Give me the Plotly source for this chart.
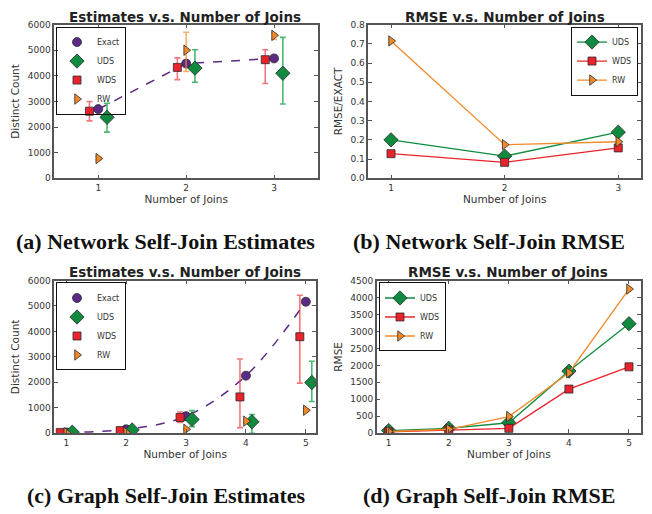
import plotly.graph_objects as go

W, H = 652, 514

# ---------------- data ----------------
# (a) Network self-join estimates
joins_a = [1, 2, 3]
exact_a = [2700, 4480, 4680]
uds_a = [2380, 4300, 4100]
uds_a_hi = [2930, 5020, 5500]
uds_a_lo = [1800, 3750, 2900]
wds_a = [2620, 4330, 4630]
wds_a_hi = [3000, 4700, 5020]
wds_a_lo = [2240, 3850, 3700]
rw_a = [770, 5000, 5580]
rw_a_hi = [830, 5700, 5650]
rw_a_lo = [710, 4170, 5420]

# (b) Network self-join RMSE (relative)
joins_b = [1, 2, 3]
uds_b = [0.200, 0.115, 0.240]
wds_b = [0.128, 0.083, 0.158]
rw_b = [0.715, 0.175, 0.190]

# (c) Graph self-join estimates
joins_c = [1, 2, 3, 4, 5]
exact_c = [30, 154, 668, 2262, 5167]
uds_c = [40, 128, 540, 450, 1992]
uds_c_hi = [60, 160, 887, 733, 2828]
uds_c_lo = [20, 100, 257, 0, 1247]
wds_c = [30, 103, 617, 1427, 3792]
wds_c_hi = [45, 130, 835, 2918, 5424]
wds_c_lo = [15, 80, 424, 218, 1967]
rw_c = [20, 30, 154, 475, 900]
rw_c_hi = [30, 40, 170, 540, 960]
rw_c_lo = [10, 20, 140, 420, 850]

# (d) Graph self-join RMSE
joins_d = [1, 2, 3, 4, 5]
uds_d = [77, 145, 308, 1830, 3227]
wds_d = [40, 96, 145, 1300, 1956]
rw_d = [48, 116, 491, 1782, 4249]

# ---------------- styles ----------------
PURPLE = "#5b2a86"
GREEN = "#0f8a3e"
RED = "#e8232b"
ORANGE = "#f28a2a"
GREEN_E = "rgba(15,160,70,0.75)"
RED_E = "rgba(240,60,70,0.7)"
ORANGE_E = "rgba(242,138,42,0.7)"
EDGE = "#2a2a2a"
SPINE = "#555555"
TXT = "#333333"
OFF = 0.1


def px_x(a, b):
    return [a / W, b / W]


def px_y(top, bottom):
    return [1 - bottom / H, 1 - top / H]


fig = go.Figure()


def err(vals, hi, lo, color):
    return dict(type="data", symmetric=False,
                array=[h - v for h, v in zip(hi, vals)],
                arrayminus=[v - l for l, v in zip(lo, vals)],
                color=color, thickness=1.6, width=3)


def estimates(joins, exact, uds, uh, ul, wds, wh, wl, rw, rh, rl, xa, ya, leg, spline):
    fig.add_trace(go.Scatter(x=joins, y=exact, mode="lines",
                             line=dict(color=PURPLE, dash="dash", width=1.5,
                                       shape="spline" if spline else "linear"),
                             showlegend=False, xaxis=xa, yaxis=ya, hoverinfo="skip"))
    fig.add_trace(go.Scatter(x=joins, y=exact, mode="markers", name="Exact",
                             marker=dict(symbol="circle", size=9, color=PURPLE,
                                         line=dict(color=EDGE, width=0.8)),
                             xaxis=xa, yaxis=ya, legend=leg))
    fig.add_trace(go.Scatter(x=[j + OFF for j in joins], y=uds, mode="markers", name="UDS",
                             marker=dict(symbol="diamond", size=11, color=GREEN,
                                         line=dict(color=EDGE, width=0.8)),
                             error_y=err(uds, uh, ul, GREEN_E),
                             xaxis=xa, yaxis=ya, legend=leg))
    fig.add_trace(go.Scatter(x=[j - OFF for j in joins], y=wds, mode="markers", name="WDS",
                             marker=dict(symbol="square", size=8, color=RED,
                                         line=dict(color=EDGE, width=0.8)),
                             error_y=err(wds, wh, wl, RED_E),
                             xaxis=xa, yaxis=ya, legend=leg))
    fig.add_trace(go.Scatter(x=joins, y=rw, mode="markers", name="RW",
                             marker=dict(symbol="triangle-right", size=9, color=ORANGE,
                                         line=dict(color=EDGE, width=0.8)),
                             error_y=err(rw, rh, rl, ORANGE_E),
                             xaxis=xa, yaxis=ya, legend=leg))


def rmse(joins, uds, wds, rw, xa, ya, leg):
    fig.add_trace(go.Scatter(x=joins, y=uds, mode="lines+markers", name="UDS",
                             line=dict(color=GREEN, width=1.3),
                             marker=dict(symbol="diamond", size=11, color=GREEN,
                                         line=dict(color=EDGE, width=0.8)),
                             xaxis=xa, yaxis=ya, legend=leg))
    fig.add_trace(go.Scatter(x=joins, y=wds, mode="lines+markers", name="WDS",
                             line=dict(color=RED, width=1.3),
                             marker=dict(symbol="square", size=8, color=RED,
                                         line=dict(color=EDGE, width=0.8)),
                             xaxis=xa, yaxis=ya, legend=leg))
    fig.add_trace(go.Scatter(x=joins, y=rw, mode="lines+markers", name="RW",
                             line=dict(color=ORANGE, width=1.3),
                             marker=dict(symbol="triangle-right", size=9, color=ORANGE,
                                         line=dict(color=EDGE, width=0.8)),
                             xaxis=xa, yaxis=ya, legend=leg))


estimates(joins_a, exact_a, uds_a, uds_a_hi, uds_a_lo, wds_a, wds_a_hi, wds_a_lo,
          rw_a, rw_a_hi, rw_a_lo, "x", "y", "legend", False)
rmse(joins_b, uds_b, wds_b, rw_b, "x2", "y2", "legend2")
estimates(joins_c, exact_c, uds_c, uds_c_hi, uds_c_lo, wds_c, wds_c_hi, wds_c_lo,
          rw_c, rw_c_hi, rw_c_lo, "x3", "y3", "legend3", True)
rmse(joins_d, uds_d, wds_d, rw_d, "x4", "y4", "legend4")

tickfont = dict(family="DejaVu Sans", size=9, color=TXT)
titlefont = dict(family="DejaVu Sans", size=10.5, color=TXT)


def xax(domain, rng, ticks, anchor):
    return dict(domain=domain, range=rng, tickvals=ticks, anchor=anchor,
                showgrid=False, zeroline=False, showline=True, linecolor=SPINE,
                linewidth=1.5, mirror="allticks", ticks="inside", ticklen=4,
                tickcolor=SPINE, tickfont=tickfont,
                title=dict(text="Number of Joins", font=titlefont, standoff=4))


def yax(domain, rng, ticks, anchor, title, fmt=None):
    d = dict(domain=domain, range=rng, tickvals=ticks, anchor=anchor,
             showgrid=False, zeroline=False, showline=True, linecolor=SPINE,
             linewidth=1.5, mirror="allticks", ticks="inside", ticklen=4,
             tickcolor=SPINE, tickfont=tickfont,
             title=dict(text=title, font=titlefont, standoff=6))
    if fmt:
        d["tickformat"] = fmt
    return d


ya_dom = px_y(20, 176.7)
yc_dom = px_y(281, 436.7)

fig.update_layout(
    width=W, height=H, margin=dict(l=0, r=0, t=0, b=0),
    paper_bgcolor="white", plot_bgcolor="white",
    xaxis=xax(px_x(54.3, 318), [0.5, 3.5], joins_a, "y"),
    yaxis=yax(ya_dom, [0, 6000], list(range(0, 6001, 1000)), "x", "Distinct Count"),
    xaxis2=xax(px_x(368.3, 641), [0.8, 3.2], joins_b, "y2"),
    yaxis2=yax(ya_dom, [0, 0.8], [i / 10 for i in range(9)], "x2", "RMSE/EXACT", ".1f"),
    xaxis3=xax(px_x(54.3, 316), [0.8, 5.17], joins_c, "y3"),
    yaxis3=yax(yc_dom, [0, 6000], list(range(0, 6001, 1000)), "x3", "Distinct Count"),
    xaxis4=xax(px_x(376.7, 641), [0.8, 5.2], joins_d, "y4"),
    yaxis4=yax(yc_dom, [0, 4500], list(range(0, 4501, 500)), "x4", "RMSE"),
)

legfont = dict(family="DejaVu Sans", size=8, color=TXT)


def leg(x, y, xanchor="left", bg="white"):
    return dict(x=x / W, y=1 - y / H, xanchor=xanchor, yanchor="top", xref="paper", yref="paper",
                bgcolor=bg, bordercolor="#111111", borderwidth=1, font=legfont,
                itemwidth=30, tracegroupgap=0, itemsizing="trace")


fig.update_layout(
    legend=leg(56, 22, bg="rgba(255,255,255,0)"),
    legend2=leg(638, 22, "right"),
    legend3=leg(56, 283),
    legend4=leg(379, 283),
)

titles = [
    ("Estimates v.s. Number of Joins", 185, 12),
    ("RMSE v.s. Number of Joins", 505, 12),
    ("Estimates v.s. Number of Joins", 185, 272),
    ("RMSE v.s. Number of Joins", 508, 272),
]
for text, x, y in titles:
    fig.add_annotation(text=f"<b>{text}</b>", x=x / W, y=1 - y / H, xref="paper", yref="paper",
                       showarrow=False, xanchor="center", yanchor="middle",
                       font=dict(family="DejaVu Sans", size=13.5, color="#222222"))

captions = [
    ("(a) Network Self-Join Estimates", 165, 241),
    ("(b) Network Self-Join RMSE", 489, 241),
    ("(c) Graph Self-Join Estimates", 166, 500),
    ("(d) Graph Self-Join RMSE", 489, 500),
]
for text, x, y in captions:
    fig.add_annotation(text=f"<b>{text}</b>", x=x / W, y=1 - y / H, xref="paper", yref="paper",
                       showarrow=False, xanchor="center", yanchor="middle",
                       font=dict(family="Liberation Serif", size=22, color="#111111"))

fig.write_html("out.html")
